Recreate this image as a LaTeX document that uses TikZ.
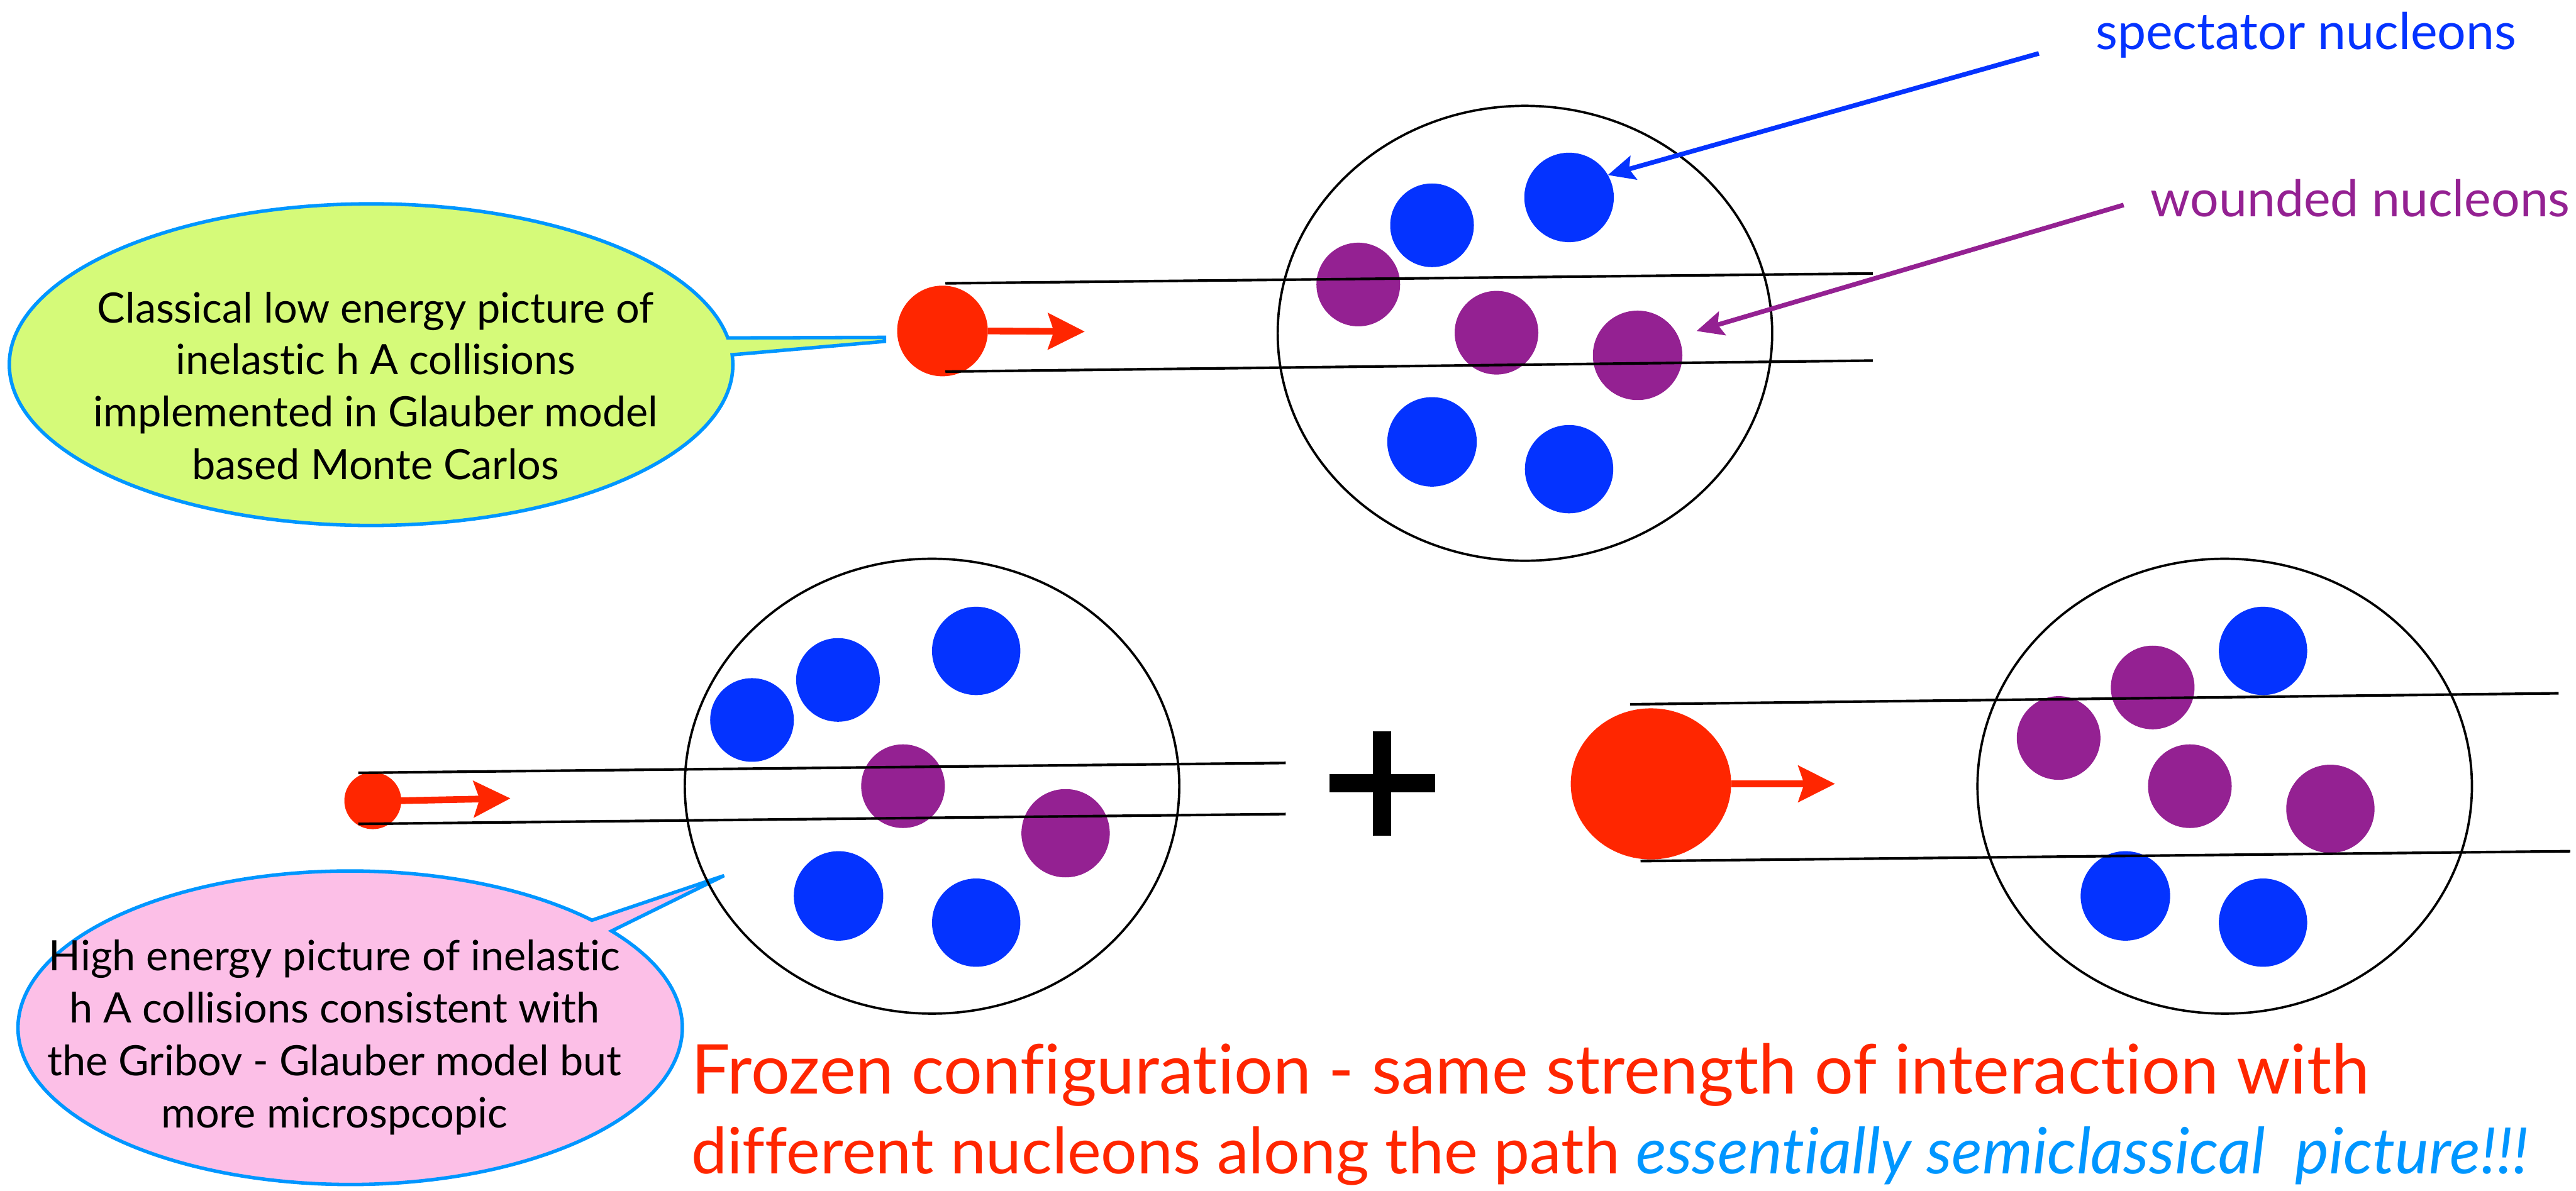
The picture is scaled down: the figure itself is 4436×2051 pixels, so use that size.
\documentclass[tikz,border=0pt]{standalone}
\usepackage{fontspec}
\setmainfont{Lato}[Ligatures={NoCommon}]
\usetikzlibrary{shapes.geometric,arrows.meta,calc}
\definecolor{nblue}{RGB}{4,51,255}
\definecolor{npurple}{RGB}{148,33,146}
\definecolor{nred}{RGB}{255,38,0}
\definecolor{lblue}{RGB}{0,150,255}
\definecolor{bgreen}{RGB}{213,250,121}
\definecolor{bpink}{RGB}{252,191,231}
\begin{document}
\begin{tikzpicture}[x=0.01cm,y=-0.01cm,
  nucB/.style={circle,fill=nblue,inner sep=0pt,outer sep=0pt,minimum size=#1},
  nucB/.default=1.52cm,
  nucP/.style={circle,fill=npurple,inner sep=0pt,outer sep=0pt,minimum size=#1},
  nucP/.default=1.46cm,
  nucleus/.style={ellipse,draw=black,line width=0.04cm,inner sep=0pt,minimum width=8.51cm,minimum height=7.83cm},
  tube/.style={draw=black,line width=0.045cm},
  proj/.style={fill=nred,inner sep=0pt,outer sep=0pt},
  redarrow/.style={draw=nred,line width=0.115cm,-{Stealth[length=0.63cm,width=0.62cm,inset=0.1cm]}},
  labarrow/.style={line width=0.08cm,-{Stealth[length=0.46cm,width=0.42cm,inset=0.08cm]}},
  bubble/.style={draw=lblue,line width=0.06cm,line join=miter},
  bubtext/.style={font=\fontsize{20.5}{25}\selectfont,inner sep=0pt,anchor=base},
  labtext/.style={font=\fontsize{24.8}{28}\selectfont,inner sep=0pt,anchor=base west},
  bigtext/.style={inner sep=0pt,anchor=base west,text=nred}
]
\useasboundingbox (0,0) rectangle (4436,2051);

% ---------- callout bubbles ----------
\coordinate (gc) at (639,628);
\path[bubble,fill=bgreen] ($(gc)+(-3.52:623 and 277)$)
  arc[start angle=-3.52,end angle=350.44,x radius=623,y radius=277]
  -- (1523,581) -- (1523,588) -- cycle;
\node[bubtext] (g1) at (647,556) {Classical low energy picture of};
\node[bubtext] (g2) at (647,645) {inelastic h A collisions};
\node[bubtext] (g3) at (647,735) {implemented in Glauber model};
\node[bubtext] (g4) at (647,826) {based Monte Carlos};

\coordinate (pc) at (603,1770);
\path[bubble,fill=bpink] ($(pc)+(-38.1:572 and 270)$)
  arc[start angle=-38.1,end angle=316.7,x radius=572,y radius=270]
  -- (1247,1508) -- cycle;
\node[bubtext] (p1) at (576,1672) {High energy picture of inelastic};
\node[bubtext] (p2) at (576,1762) {h A collisions consistent with};
\node[bubtext] (p3) at (576,1852) {the Gribov - Glauber model but};
\node[bubtext] (p4) at (576,1942) {more microspcopic};

% ---------- top nucleus ----------
\node[nucleus] (nucT) at (2626,574) {};
\node[nucB=1.54cm] (tb1) at (2702,340) {};
\node[nucB=1.44cm] (tb2) at (2466,388) {};
\node[nucP=1.44cm] (tp1) at (2339,490) {};
\node[nucP=1.44cm] (tp2) at (2577,573) {};
\node[nucP=1.54cm] (tp3) at (2820,612) {};
\node[nucB=1.54cm] (tb3) at (2466,761) {};
\node[nucB=1.52cm] (tb4) at (2702,808) {};

\node[proj,circle,minimum size=1.56cm] (hT) at (1623,570) {};
\coordinate (tT1a) at (1628,488); \coordinate (tT1b) at (3225,471);
\coordinate (tT2a) at (1628,640); \coordinate (tT2b) at (3225,621);
\draw[tube] (tT1a) -- (tT1b);
\draw[tube] (tT2a) -- (tT2b);
\coordinate (aT) at (1868,571);
\draw[redarrow] (hT.east) -- (aT);

% labels
\node[labtext,text=nblue] (spec) at (3608,85) {spectator nucleons};
\node[labtext,text=npurple] (wound) at (3703,373) {wounded nucleons};
\coordinate (specTail) at (3511,92);
\coordinate (woundTail) at (3657,353);
\draw[labarrow,draw=nblue,fill=nblue] (specTail) -- (tb1.30);
\draw[labarrow,draw=npurple,fill=npurple,shorten >=0.33cm] (woundTail) -- (tp3.25);

% ---------- bottom-left nucleus ----------
\node[nucleus] (nucL) at (1605,1354) {};
\node[nucB=1.44cm] (lb1) at (1295,1240) {};
\node[nucB=1.44cm] (lb2) at (1443,1171) {};
\node[nucB=1.52cm] (lb3) at (1681,1121) {};
\node[nucP=1.44cm] (lp1) at (1555,1354) {};
\node[nucP=1.52cm] (lp2) at (1835,1435) {};
\node[nucB=1.54cm] (lb4) at (1444,1543) {};
\node[nucB=1.52cm] (lb5) at (1681,1589) {};

\node[proj,circle,minimum size=0.98cm] (hL) at (642,1379) {};
\coordinate (tL1a) at (617,1331); \coordinate (tL1b) at (2214,1314);
\coordinate (tL2a) at (617,1419); \coordinate (tL2b) at (2214,1402);
\draw[tube] (tL1a) -- (tL1b);
\draw[tube] (tL2a) -- (tL2b);
\coordinate (aL) at (879,1375);
\draw[redarrow] (hL.east) -- (aL);

% ---------- plus ----------
\coordinate (plus) at (2380,1349);
\draw[line width=0.31cm] (plus) ++(0,-90) -- ++(0,180);
\draw[line width=0.31cm] (plus) ++(-91,0) -- ++(182,0);

% ---------- bottom-right nucleus ----------
\node[nucleus] (nucR) at (3831,1354) {};
\node[nucB=1.52cm] (rb1) at (3897,1121) {};
\node[nucP=1.44cm] (rp1) at (3707,1184) {};
\node[nucP=1.44cm] (rp2) at (3545,1271) {};
\node[nucP=1.44cm] (rp3) at (3771,1354) {};
\node[nucP=1.52cm] (rp4) at (4013,1393) {};
\node[nucB=1.54cm] (rb2) at (3660,1543) {};
\node[nucB=1.52cm] (rb3) at (3897,1589) {};

\node[proj,ellipse,minimum width=2.76cm,minimum height=2.6cm] (hR) at (2843,1350) {};
\coordinate (tR1a) at (2807,1213); \coordinate (tR1b) at (4406,1194);
\coordinate (tR2a) at (2825,1483); \coordinate (tR2b) at (4426,1466);
\draw[tube] (tR1a) -- (tR1b);
\draw[tube] (tR2a) -- (tR2b);
\coordinate (aR) at (3160,1350);
\draw[redarrow] (hR.east) -- (aR);

% ---------- bottom text ----------
\node[bigtext,font=\fontsize{33.6}{38}\selectfont] (f1) at (1190,1884) {Frozen configuration - same strength of interaction with};
\node[bigtext,font=\fontsize{31.3}{38}\selectfont] (f2) at (1190,2021) {different nucleons along the path {\color{lblue}\itshape essentially semiclassical\ \ picture!!!}};
\end{tikzpicture}
\end{document}
